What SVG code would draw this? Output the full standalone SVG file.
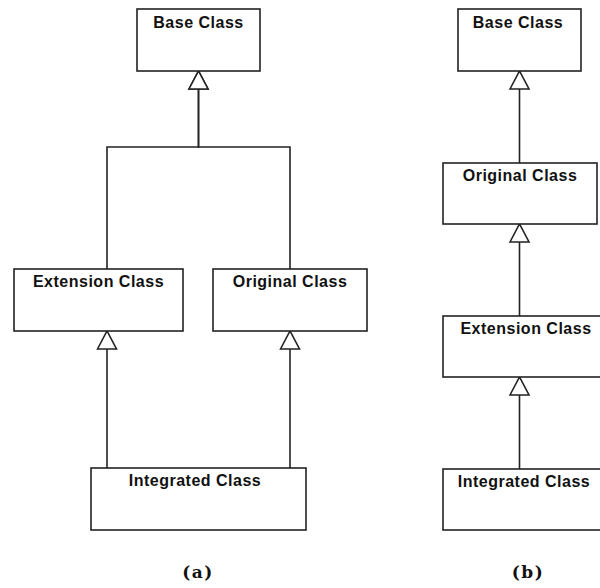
<svg xmlns="http://www.w3.org/2000/svg" width="600" height="588" viewBox="0 0 600 588">
<style>
.box{fill:#fff;stroke:#222;stroke-width:1.6}
.lbl{font-family:"Liberation Sans",Arial,sans-serif;font-weight:bold;font-size:16px;letter-spacing:0.5px;fill:#111;text-anchor:middle}
.conn{fill:none;stroke:#222;stroke-width:1.6}
.cap{font-family:"DejaVu Serif","Liberation Serif",serif;font-weight:bold;font-size:17px;letter-spacing:1.5px;fill:#111;text-anchor:middle}
</style>
<defs>
<marker id="gen" markerUnits="userSpaceOnUse" markerWidth="18" markerHeight="19" refX="18" refY="9.5" orient="auto" overflow="visible">
<path d="M0,0 L18,9.5 L0,19 Z" fill="#fff" stroke="#222" stroke-width="1.6"/>
</marker>
</defs>
<rect width="600" height="588" fill="#fff"/>
<g id="connectors">
<path class="conn" d="M107,269 V147 H198.5 V71" marker-end="url(#gen)"/>
<path class="conn" d="M290,269 V147 H198.5 V71" marker-end="url(#gen)"/>
<path class="conn" d="M107,468 V331" marker-end="url(#gen)"/>
<path class="conn" d="M290,468 V331" marker-end="url(#gen)"/>
<path class="conn" d="M519.5,163 V71" marker-end="url(#gen)"/>
<path class="conn" d="M519.5,316 V224" marker-end="url(#gen)"/>
<path class="conn" d="M519.5,469 V377" marker-end="url(#gen)"/>
</g>
<g id="a-base"><rect class="box" x="137" y="9" width="123" height="62"/><text class="lbl" x="198.5" y="28">Base Class</text></g>
<g id="a-extension"><rect class="box" x="14" y="269" width="169" height="62"/><text class="lbl" x="98.5" y="287">Extension Class</text></g>
<g id="a-original"><rect class="box" x="213" y="269" width="154" height="62"/><text class="lbl" x="290" y="287">Original Class</text></g>
<g id="a-integrated"><rect class="box" x="91" y="468" width="215" height="62"/><text class="lbl" x="195" y="486">Integrated Class</text></g>
<g id="b-base"><rect class="box" x="458" y="9" width="123" height="62"/><text class="lbl" x="518" y="28">Base Class</text></g>
<g id="b-original"><rect class="box" x="443" y="163" width="154" height="61"/><text class="lbl" x="520" y="181">Original Class</text></g>
<g id="b-extension"><rect class="box" x="443" y="316" width="170" height="61"/><text class="lbl" x="526" y="334">Extension Class</text></g>
<g id="b-integrated"><rect class="box" x="443" y="469" width="170" height="61"/><text class="lbl" x="524" y="487">Integrated Class</text></g>
<text class="cap" x="198" y="578">(a)</text>
<text class="cap" x="528" y="578">(b)</text>
</svg>
